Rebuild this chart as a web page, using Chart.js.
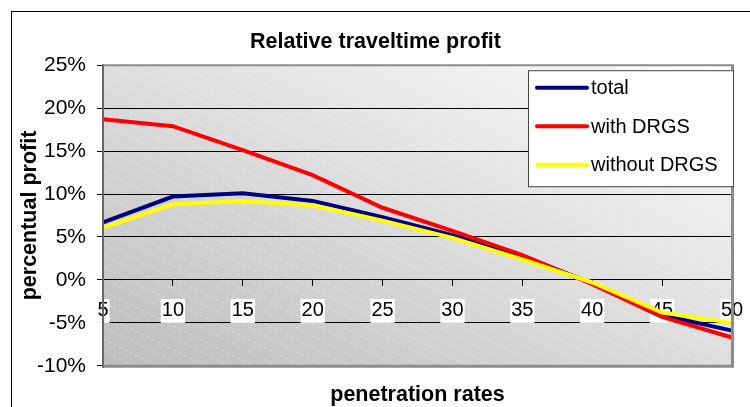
<!DOCTYPE html>
<html>
<head>
<meta charset="utf-8">
<title>Relative traveltime profit</title>
<script src="https://cdn.jsdelivr.net/npm/chart.js@4.4.1/dist/chart.umd.min.js"></script>
<style>
  html, body { margin: 0; padding: 0; background: #fff; overflow: hidden; width: 750px; height: 407px; }
  #frame {
    position: absolute; left: 11px; top: 11px;
    width: 746px; height: 400px;
    border: 1px solid #000;
  }
  #wrap { position: relative; width: 746px; height: 395px; }
</style>
</head>
<body>
<div id="frame">
  <div id="wrap"><canvas id="profitChart"></canvas></div>
</div>
<script>
// Penetration rates (%) on the x axis
const RATES = ['5', '10', '15', '20', '25', '30', '35', '40', '45', '50'];

// Relative traveltime profit per series (%)
const TOTAL        = [6.7, 9.7, 10.1, 9.2, 7.3, 5.2, 2.8, -0.4, -4.1, -5.9];
const WITH_DRGS    = [18.7, 17.9, 15.1, 12.2, 8.4, 5.7, 2.9, -0.5, -4.3, -6.7];
const WITHOUT_DRGS = [6.1, 8.8, 9.2, 8.7, 6.9, 4.9, 2.4, -0.3, -3.8, -5.0];

const SERIES_NAMES = ['total', 'with DRGS', 'without DRGS'];
const Y_MIN = -10, Y_MAX = 25, Y_STEP = 5;

const FONT = "'Liberation Sans', Arial, sans-serif";

Chart.defaults.font.family = FONT;
Chart.defaults.color = '#000';

// ── Plot background: diagonal grey gradient with faint hatch, grey frame ─────
const plotBackground = {
  id: 'plotBackground',
  beforeDraw(chart) {
    const { ctx, chartArea: a } = chart;
    const w = a.right - a.left, h = a.bottom - a.top;
    ctx.save();
    ctx.translate(a.left, a.top);
    ctx.scale(w, h);
    const g = ctx.createLinearGradient(0, 1, 1, 0);
    g.addColorStop(0, '#bdbdbd');
    g.addColorStop(1, '#fdfdfd');
    ctx.fillStyle = g;
    ctx.fillRect(0, 0, 1, 1);
    ctx.restore();

    // faint dashed diagonal hatch
    ctx.save();
    ctx.beginPath();
    ctx.rect(a.left, a.top, w, h);
    ctx.clip();
    ctx.strokeStyle = 'rgba(255,255,255,0.35)';
    ctx.lineWidth = 1;
    ctx.setLineDash([3, 3]);
    const slope = 0.5;
    for (let y0 = a.top - w * slope; y0 < a.bottom; y0 += 12) {
      ctx.beginPath();
      ctx.moveTo(a.left, y0);
      ctx.lineTo(a.right, y0 + w * slope);
      ctx.stroke();
    }
    ctx.restore();
  },
  afterDatasetsDraw(chart) {
    const { ctx, chartArea: a } = chart;
    ctx.save();
    ctx.strokeStyle = '#8c8c8c';
    ctx.lineWidth = 2;
    ctx.beginPath();
    ctx.moveTo(a.left, a.top);
    ctx.lineTo(a.right, a.top);
    ctx.stroke();
    ctx.lineWidth = 3;
    ctx.beginPath();
    ctx.moveTo(a.right + 0.5, a.top - 1);
    ctx.lineTo(a.right + 0.5, a.bottom + 0.5);
    ctx.lineTo(a.left, a.bottom + 0.5);
    ctx.stroke();
    ctx.strokeStyle = '#666';
    ctx.lineWidth = 2;
    ctx.beginPath();
    ctx.moveTo(a.left, a.top - 1);
    ctx.lineTo(a.left, a.bottom + 2);
    ctx.stroke();
    ctx.restore();
  }
};

// ── Legend box inside the plot, top right ────────────────────────────────────
const boxLegend = {
  id: 'boxLegend',
  afterDraw(chart) {
    const { ctx, chartArea: a } = chart;
    const bw = 205, bh = 116;
    const x = a.right + 1 - bw, y = a.top + 5;
    ctx.save();
    ctx.fillStyle = '#fff';
    ctx.fillRect(x, y, bw, bh);
    ctx.strokeStyle = '#444';
    ctx.lineWidth = 1;
    ctx.strokeRect(x + 0.5, y + 0.5, bw, bh);
    ctx.font = '20px ' + FONT;
    ctx.textBaseline = 'middle';
    ctx.lineCap = 'round';
    chart.data.datasets.forEach((ds, i) => {
      const ry = y + 17.5 + i * 38.5;
      ctx.strokeStyle = ds.borderColor;
      ctx.lineWidth = 4;
      ctx.beginPath();
      ctx.moveTo(x + 9, ry);
      ctx.lineTo(x + 59, ry);
      ctx.stroke();
      ctx.fillStyle = '#000';
      ctx.fillText(ds.label, x + 63, ry + 1);
    });
    ctx.restore();
  }
};

new Chart(document.getElementById('profitChart'), {
  type: 'line',
  data: {
    labels: RATES,
    datasets: [
      { label: SERIES_NAMES[0], data: TOTAL,        borderColor: '#000080', order: 3 },
      { label: SERIES_NAMES[1], data: WITH_DRGS,    borderColor: '#ff0000', order: 2 },
      { label: SERIES_NAMES[2], data: WITHOUT_DRGS, borderColor: '#ffff00', order: 1 },
    ].map(d => ({ ...d, borderWidth: 4, pointRadius: 0, tension: 0, fill: false }))
  },
  options: {
    responsive: true,
    maintainAspectRatio: false,
    animation: false,
    layout: { padding: { left: 7, right: 26, top: 0, bottom: 1 } },
    plugins: {
      legend: { display: false },
      tooltip: { enabled: false },
      title: {
        display: true,
        text: 'Relative traveltime profit',
        color: '#000',
        font: { size: 21.5, weight: 'bold', lineHeight: 1.2 },
        padding: { top: 17, bottom: 10.4 }
      }
    },
    scales: {
      x: {
        type: 'category',
        position: { y: 0 },
        offset: false,
        grid: { drawOnChartArea: false, drawTicks: true, tickLength: 6, color: '#000' },
        border: { display: true, color: '#000', width: 1 },
        ticks: {
          font: { size: 20 },
          color: '#000',
          padding: 13,
          maxRotation: 0,
          autoSkip: false,
          showLabelBackdrop: true,
          backdropColor: '#fff',
          backdropPadding: { top: 0, bottom: 0, left: 1, right: 1 }
        }
      },
      xTitle: {
        type: 'category',
        position: 'bottom',
        offset: false,
        grid: { display: false },
        border: { display: false },
        ticks: { display: false },
        title: {
          display: true,
          text: 'penetration rates',
          color: '#000',
          font: { size: 21.5, weight: 'bold', lineHeight: 1 },
          padding: { top: 10.7, bottom: 0 }
        }
      },
      y: {
        min: Y_MIN,
        max: Y_MAX,
        afterFit: scale => { scale.width = 84; },
        ticks: {
          stepSize: Y_STEP,
          font: { size: 21 },
          color: '#000',
          padding: 11,
          callback: v => v + '%'
        },
        grid: { color: '#000', lineWidth: 1, tickLength: 6, tickColor: '#000' },
        border: { display: false },
        title: {
          display: true,
          text: 'percentual profit',
          color: '#000',
          font: { size: 21.5, weight: 'bold', lineHeight: 1 },
          padding: { top: 0, bottom: 0 }
        }
      }
    }
  },
  plugins: [plotBackground, boxLegend]
});
</script>
</body>
</html>
